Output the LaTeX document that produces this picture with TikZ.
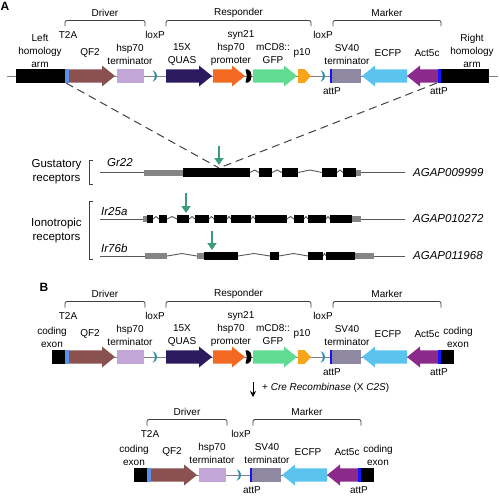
\documentclass[tikz,border=0pt]{standalone}
\usepackage{fontspec}
\setmainfont{Liberation Sans}
\usetikzlibrary{arrows.meta}
\definecolor{qf2c}{HTML}{8B5050}
\definecolor{termc}{HTML}{C3A6D8}
\definecolor{loxpc}{HTML}{2B8FA6}
\definecolor{quasc}{HTML}{2C1A5E}
\definecolor{promc}{HTML}{F26A21}
\definecolor{gfpc}{HTML}{5FDC92}
\definecolor{ptenc}{HTML}{F8A51B}
\definecolor{attpc}{HTML}{1414FF}
\definecolor{svc}{HTML}{8E88A2}
\definecolor{ecfpc}{HTML}{5AC3EE}
\definecolor{actc}{HTML}{8C2A8C}
\definecolor{tac}{HTML}{5A90E8}
\definecolor{grnc}{HTML}{3A9D78}
\definecolor{linec}{HTML}{808080}
\definecolor{utrc}{HTML}{858585}
\newcommand\labfont{\fontsize{10}{13}\selectfont}
\newcommand\genefont{\fontsize{11.5}{14}\selectfont}
\newcommand\myfwd[4]{\fill[#4] (#1,#3-6.7) -- (#2-13,#3-6.7) -- (#2-13,#3-10.5) -- (#2,#3) -- (#2-13,#3+10.5) -- (#2-13,#3+6.7) -- (#1,#3+6.7) -- cycle;}
\newcommand\myrev[4]{\fill[#4] (#2,#3-6.7) -- (#1+13,#3-6.7) -- (#1+13,#3-10.5) -- (#1,#3) -- (#1+13,#3+10.5) -- (#1+13,#3+6.7) -- (#2,#3+6.7) -- cycle;}
\newcommand\mybox[4]{\fill[#4] (#1,#3-6.7) rectangle (#2,#3+6.7);}
\newcommand\myloxp[2]{\fill[loxpc] (#1-2.3,#2-5.8) .. controls (#1+3.6,#2-4) and (#1+3.6,#2+4) .. (#1-2.3,#2+5.8) .. controls (#1+0.6,#2+2) and (#1+0.6,#2-2) .. (#1-2.3,#2-5.8) -- cycle;}
\newcommand\mybrace[5]{\draw[brk] (#1,#3+6) -- (#1,#3) -- (#2,#3) -- (#2,#3+6);
 \node[lab] (#4) at ({(#1+#2)/2},#3-7.5) {#5};}
\newcommand\mydriver[3]{%
 \mybox{65+#1}{69+#1}{#2}{tac}
 \myfwd{69+#1}{115+#1}{#2}{qf2c}
 \mybox{117+#1}{144+#1}{#2}{termc}
 \node[lab] (#3t2a) at (68+#1,#2-41) {T2A};
 \node[lab] (#3qf) at (90+#1,#2-23) {QF2};
 \node[lab] (#3ht) at (130+#1,#2-21.5) {hsp70\\terminator};
 \mybrace{65+#1}{145+#1}{#2-55.5}{#3drv}{Driver}}
\newcommand\myresp[2]{%
 \myfwd{166}{212}{#1}{quasc}
 \myfwd{213}{245}{#1}{promc}
 \fill[black] (245.5,#1-6.7) -- (248,#1-6.7) .. controls (252.8,#1-5) and (252.8,#1+5) .. (248,#1+6.7) -- (245.5,#1+6.7) -- (246.8,#1) -- cycle;
 \myfwd{253}{297}{#1}{gfpc}
 \fill[ptenc] (298,#1-7) -- (304.5,#1-7) -- (311,#1) -- (304.5,#1+7) -- (298,#1+7) -- cycle;
 \node[lab] (#2qu) at (182,#1-21.5) {15X\\QUAS};
 \node[lab] (#2pr) at (231,#1-21.5) {hsp70\\promoter};
 \node[lab] (#2syn) at (241,#1-41) {syn21};
 \node[lab] (#2gfp) at (273,#1-22.5) {mCD8::\\GFP};
 \node[lab] (#2pt) at (302,#1-23) {p10};
 \mybrace{166}{311}{#1-55.5}{#2rsp}{Responder}}
\newcommand\mymarker[3]{%
 \fill[attpc] (330+#1,#2-6.7) rectangle (332+#1,#2+6.7);
 \mybox{332+#1}{361+#1}{#2}{svc}
 \myrev{362+#1}{407+#1}{#2}{ecfpc}
 \myrev{407+#1}{438+#1}{#2}{actc}
 \fill[attpc] (438+#1,#2-6.7) rectangle (440.5+#1,#2+6.7);
 \node[lab] (#3sv) at (347+#1,#2-21.5) {SV40\\terminator};
 \node[lab] (#3ec) at (388+#1,#2-23) {ECFP};
 \node[lab] (#3ac) at (427+#1,#2-23) {Act5c};
 \node[lab] (#3at1) at (332+#1,#2+15) {attP};
 \node[lab] (#3at2) at (439+#1,#2+15) {attP};
 \mybrace{333+#1}{441+#1}{#2-55.5}{#3mkr}{Marker}}
\newcommand\myexon[3]{\fill[black] (#1,#3-4.4) rectangle (#2,#3+4.4);}
\newcommand\myutr[3]{\fill[utrc] (#1,#3-3) rectangle (#2,#3+3);}
\newcommand\myintron[3]{\draw[gline] (#1,#3) -- ({(#1+#2)/2},#3-2.5) -- (#2,#3);}
\begin{document}
\begin{tikzpicture}[x=1pt,y=-1pt,
  lab/.style={font=\labfont,inner sep=0pt,align=center},
  glab/.style={font=\genefont,inner sep=0pt,align=center},
  gname/.style={font=\genefont\itshape,inner sep=0pt,anchor=west},
  brk/.style={draw=black!75,line width=0.8pt,rounded corners=2pt},
  bb/.style={draw=linec,line width=1pt},
  gline/.style={draw=black!65,line width=0.9pt},
  dsh/.style={draw=black!75,line width=1pt,dash pattern=on 8pt off 5pt},
  garr/.style={draw=grnc,line width=2.4pt,-{Triangle[width=9pt,length=7pt]}},
  plabel/.style={font=\fontsize{12}{14}\selectfont\bfseries,inner sep=0pt}]
\useasboundingbox (0,0) rectangle (500,495);
% ---------- panel A ----------
\node[plabel] (pA) at (5,6) {A};
\draw[bb] (7,76) -- (498,76);
\fill[black] (16,69.3) rectangle (65,82.7);
\fill[black] (440.5,69.3) rectangle (489,82.7);
\mydriver{0}{76}{a}
\myresp{76}{a}
\mymarker{0}{76}{a}
\myloxp{155}{76}
\myloxp{323}{76}
\node[lab] (alx1) at (155,35) {loxP};
\node[lab] (alx2) at (323,35) {loxP};
\node[lab] (alarm) at (40,51) {Left\\homology\\arm};
\node[lab] (ararm) at (472,51) {Right\\homology\\arm};
% dashed insertion lines
\coordinate (dl) at (66,83);
\coordinate (dr) at (437,83);
\coordinate (ins) at (219,168);
\draw[dsh] (dl) -- (ins);
\draw[dsh] (dr) -- (ins);
% ---------- genes ----------
\node[glab] (gus) at (56.5,172) {Gustatory\\receptors};
\draw[brk,rounded corners=0pt] (93,160) -- (89,160) -- (89,184) -- (93,184);
\node[glab] (ion) at (56.5,230.5) {Ionotropic\\receptors};
\draw[brk,rounded corners=0pt] (93,201) -- (89,201) -- (89,259) -- (93,259);
% Gr22
\node[gname] (gr) at (107,163) {Gr22};
\node[gname] (ag1) at (413,172.5) {AGAP009999};
\draw[gline] (100,172.5) -- (144,172.5);
\draw[gline] (361,172.5) -- (405,172.5);
\myutr{144}{183}{172.5}
\myexon{183}{250}{172.5}
\myintron{250}{259}{172.5}
\myexon{259}{272}{172.5}
\myintron{272}{282}{172.5}
\myexon{282}{298}{172.5}
\myintron{298}{322}{172.5}
\myexon{322}{337}{172.5}
\myintron{337}{343}{172.5}
\myexon{343}{356}{172.5}
\myutr{356}{361}{172.5}
% Ir25a
\node[gname] (ir25) at (101,212) {Ir25a};
\node[gname] (ag2) at (413,219) {AGAP010272};
\draw[gline] (100,219) -- (143,219);
\draw[gline] (361,219) -- (405,219);
\myutr{143}{147}{219}
\myexon{147}{153}{219}
\myintron{153}{159}{219}
\myexon{159}{167}{219}
\myintron{167}{177}{219}
\myexon{177}{189}{219}
\myintron{189}{195}{219}
\myexon{195}{209}{219}
\myintron{209}{214}{219}
\myexon{214}{227}{219}
\myintron{227}{231}{219}
\myexon{231}{251}{219}
\myintron{251}{255}{219}
\myexon{255}{287}{219}
\myintron{287}{294}{219}
\myexon{294}{304}{219}
\myintron{304}{308}{219}
\myexon{308}{326}{219}
\myintron{326}{330}{219}
\myexon{330}{352}{219}
\myutr{352}{361}{219}
% Ir76b
\node[gname] (ir76) at (101,248) {Ir76b};
\node[gname] (ag3) at (413,256) {AGAP011968};
\draw[gline] (100,256) -- (145,256);
\draw[gline] (374,256) -- (405,256);
\myutr{145}{167}{256}
\myintron{167}{197}{256}
\myutr{197}{204}{256}
\myexon{204}{238}{256}
\myintron{238}{270}{256}
\myexon{270}{279}{256}
\myintron{279}{308}{256}
\myexon{308}{323}{256}
\myintron{323}{326}{256}
\myexon{326}{355}{256}
\myutr{355}{374}{256}
% green arrows
\coordinate (g1s) at (219,146); \coordinate (g1e) at (219,165);
\coordinate (g2s) at (186,193); \coordinate (g2e) at (186,213);
\coordinate (g3s) at (212,231); \coordinate (g3e) at (212,250);
\draw[garr] (g1s) -- (g1e);
\draw[garr] (g2s) -- (g2e);
\draw[garr] (g3s) -- (g3e);
% ---------- panel B ----------
\node[plabel] (pB) at (44,287) {B};
\draw[bb] (52,357) -- (454,357);
\fill[black] (52,350.3) rectangle (65,363.7);
\fill[black] (440.5,350.3) rectangle (454,363.7);
\mydriver{0}{357}{b}
\myresp{357}{b}
\mymarker{0}{357}{b}
\myloxp{155}{357}
\myloxp{323}{357}
\node[lab] (blx1) at (155,316) {loxP};
\node[lab] (blx2) at (323,316) {loxP};
\node[lab] (bce1) at (52,337) {coding\\exon};
\node[lab] (bce2) at (458,337) {coding\\exon};
% Cre arrow
\coordinate (cs) at (253,382);
\coordinate (ce) at (253,397);
\draw[line width=0.9pt,-{Stealth[width=6pt,length=6pt]}] (cs) -- (ce);
\node[lab,anchor=west] (cre) at (262,387.5) {+ \textit{Cre Recombinase} (X \textit{C2S})};
% ---------- recombined ----------
\draw[bb] (134,475) -- (373,475);
\fill[black] (134,468.3) rectangle (147,481.7);
\fill[black] (360.5,468.3) rectangle (374,481.7);
\mydriver{82}{475}{c}
\mymarker{-80}{475}{c}
\myloxp{239}{475}
\node[lab] (clx) at (241,434) {loxP};
\node[lab] (cce1) at (134,455) {coding\\exon};
\node[lab] (cce2) at (378,455) {coding\\exon};
\end{tikzpicture}
\end{document}
